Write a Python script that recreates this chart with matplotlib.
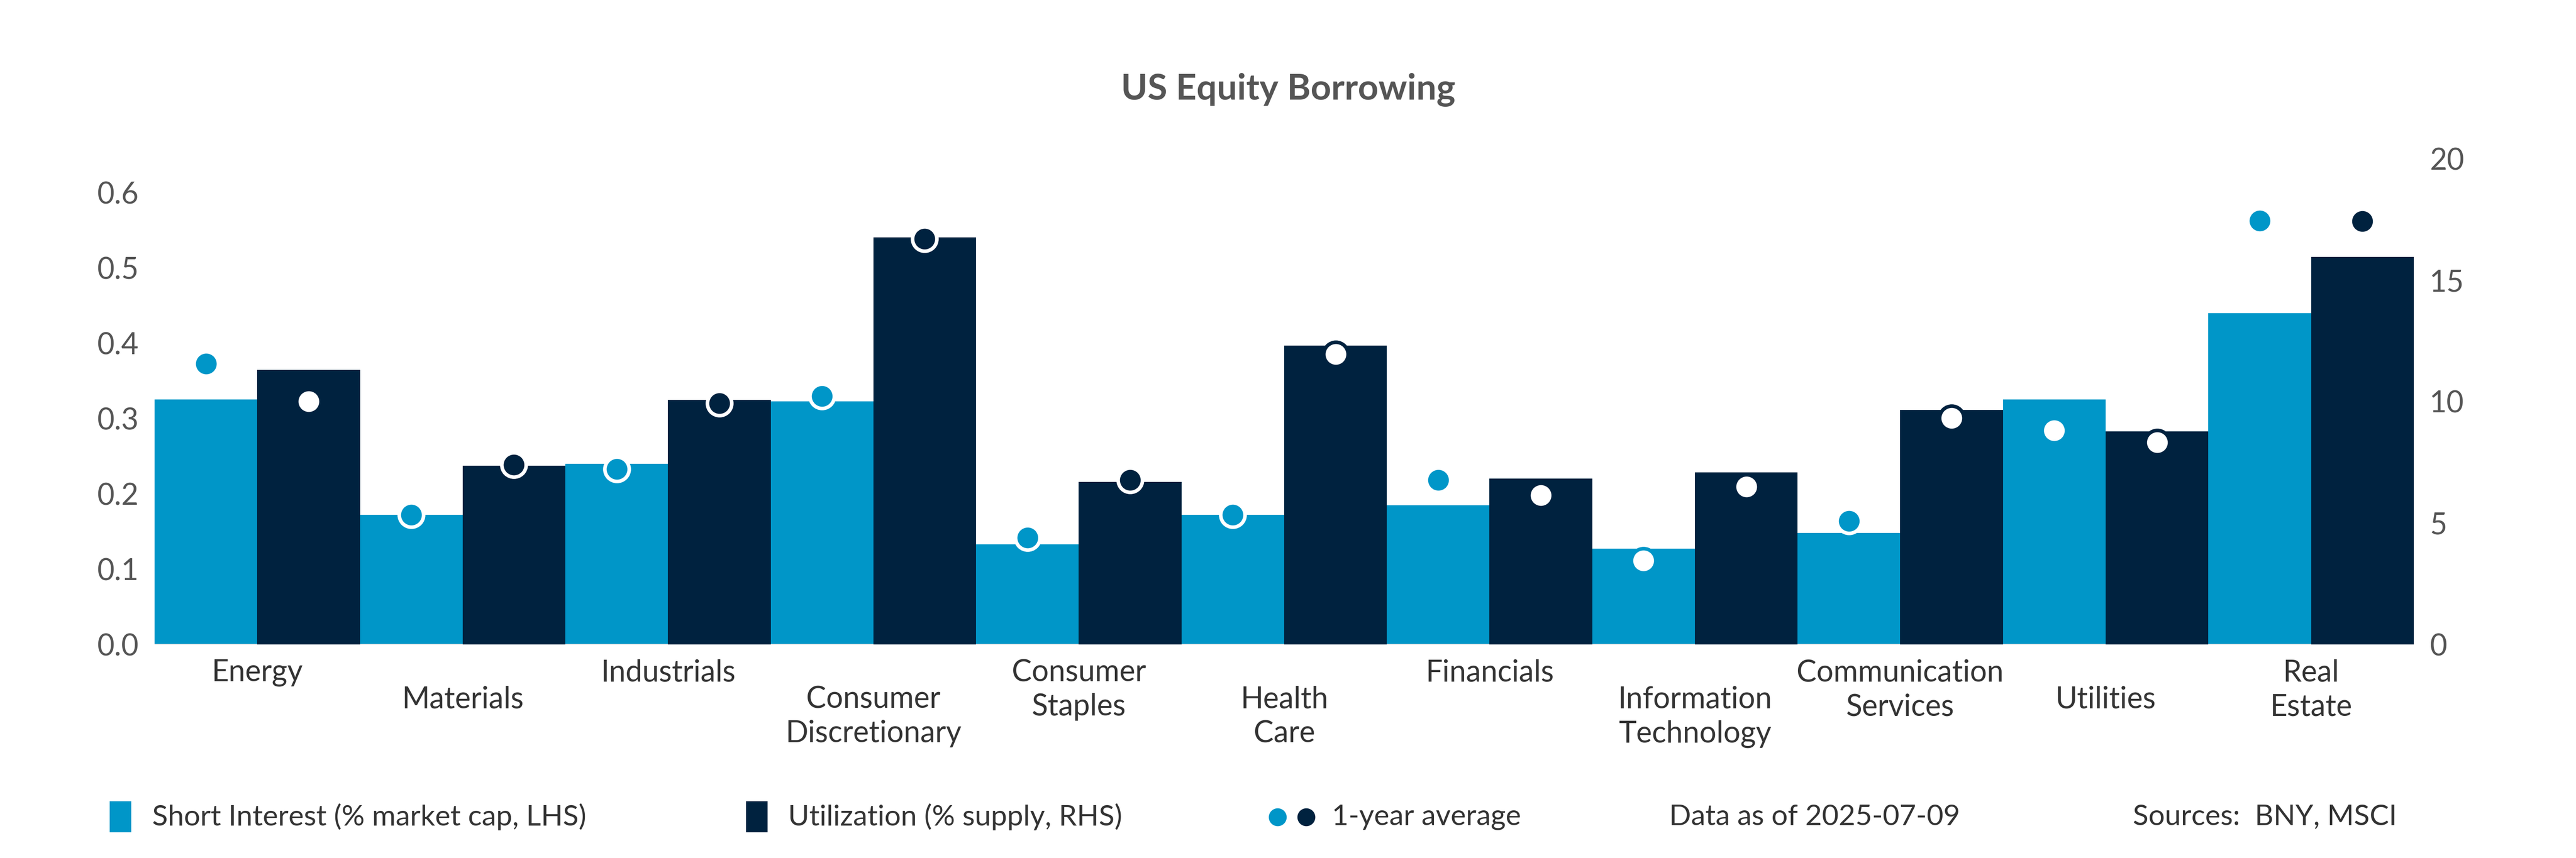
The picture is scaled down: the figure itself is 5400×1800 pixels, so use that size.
import numpy as np
import matplotlib
matplotlib.use('Agg')
import matplotlib.pyplot as plt

# Data
categories = ["Energy", "Materials", "Industrials", "Consumer\nDiscretionary", "Consumer\nStaples",
              "Health\nCare", "Financials", "Information\nTechnology", "Communication\nServices",
              "Utilities", "Real\nEstate"]
short_interest = [0.325, 0.172, 0.240, 0.323, 0.133, 0.172, 0.185, 0.127, 0.148, 0.325, 0.440]
short_avg = [0.373, 0.172, 0.233, 0.330, 0.142, 0.172, 0.218, 0.111, 0.164, 0.284, 0.563]
utilization = [11.3, 7.36, 10.07, 16.76, 6.69, 12.3, 6.82, 7.09, 9.66, 8.78, 15.95]
util_avg = [10.0, 7.4, 9.93, 16.7, 6.76, 11.96, 6.15, 6.49, 9.32, 8.31, 17.43]
left_ticks = [0.0, 0.1, 0.2, 0.3, 0.4, 0.5, 0.6]
right_ticks = [0, 5, 10, 15, 20]

LIGHT = "#0096c8"
DARK = "#00223f"
GREY = "#555555"
plt.rcParams['font.family'] = 'Lato'

fig = plt.figure(figsize=(18, 6), dpi=300)
ax = fig.add_axes([0.06, 0.249, 0.877, 0.566])
ax2 = ax.twinx()
x = np.arange(len(categories))
w = 0.5

ax.bar(x - w / 2, short_interest, w, color=LIGHT, zorder=2)
ax2.bar(x + w / 2, utilization, w, color=DARK, zorder=2)

# 1-year average dots: hollow when sitting inside the bar
for i in range(len(x)):
    inside = short_avg[i] < short_interest[i] - 0.01
    ax.scatter(x[i] - w / 2, short_avg[i], s=150, zorder=3,
               facecolor="white" if inside else LIGHT,
               edgecolor=LIGHT if inside else "white", linewidth=1.8)
    inside = util_avg[i] < utilization[i] - 0.2
    ax2.scatter(x[i] + w / 2, util_avg[i], s=150, zorder=3,
                facecolor="white" if inside else DARK,
                edgecolor=DARK if inside else "white", linewidth=1.8)

ax.set_xlim(-0.5, len(x) - 0.5)
ax.set_ylim(0, 0.645)
ax2.set_ylim(0, 20)
ax.set_yticks(left_ticks)
ax.set_yticklabels(["%.1f" % t for t in left_ticks])
ax2.set_yticks(right_ticks)
ax.set_xticks([])
for a in (ax, ax2):
    for s in a.spines.values():
        s.set_visible(False)
    a.tick_params(length=0, labelsize=15, labelcolor=GREY, pad=8)
ax.axhline(0, color="#cccccc", linewidth=0.8)

# Category labels, odd ones shifted down a line
for i, c in enumerate(categories):
    y = -0.03 if i % 2 == 0 else -0.085
    ax.text(x[i], y, c, transform=ax.get_xaxis_transform(), ha="center", va="top",
            fontsize=15, color="#333333", linespacing=1.3)

fig.text(0.5, 0.895, "US Equity Borrowing", ha="center", va="center",
         fontsize=18, fontweight="bold", color=GREY)

# Legend row
ly = 0.048
fig.patches.append(plt.Rectangle((0.043, ly - 0.017), 0.0075, 0.034, color=LIGHT, transform=fig.transFigure))
fig.text(0.059, ly, "Short Interest (% market cap, LHS)", va="center", fontsize=14.5, color="#333333")
fig.patches.append(plt.Rectangle((0.290, ly - 0.017), 0.0075, 0.034, color=DARK, transform=fig.transFigure))
fig.text(0.306, ly, "Utilization (% supply, RHS)", va="center", fontsize=14.5, color="#333333")
fig.add_artist(plt.Line2D([0.496], [ly], marker="o", markersize=8, color=LIGHT, transform=fig.transFigure))
fig.add_artist(plt.Line2D([0.507], [ly], marker="o", markersize=8, color=DARK, transform=fig.transFigure))
fig.text(0.517, ly, "1-year average", va="center", fontsize=14.5, color="#333333")
fig.text(0.648, ly, "Data as of 2025-07-09", va="center", fontsize=14.5, color="#333333")
fig.text(0.828, ly, "Sources:  BNY, MSCI", va="center", fontsize=14.5, color="#333333")

fig.savefig("out.png", dpi=300, facecolor="white")
